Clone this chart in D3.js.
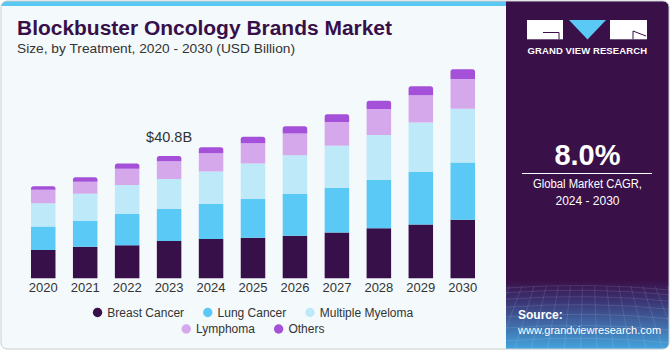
<!DOCTYPE html>
<html lang="en">
<head>
    <meta charset="UTF-8">
    <title>Blockbuster Oncology Brands Market</title>

    <style>

        body
        {
            margin: 0;
            background: #ffffff;
        }

        text
        {
            font-family: "Liberation Sans", Arial, sans-serif;
        }

        .tick text
        {
            font-size: 13px;
            fill: #333333;
        }

        .legend-label
        {
            font-size: 12px;
            fill: #333333;
        }

    </style>
</head>
<body>

    <svg width="670" height="350"></svg>

    <script src="https://d3js.org/d3.v7.min.js"></script>

    <script>

        // Data (USD billion)

        const years = ['2020', '2021', '2022', '2023', '2024', '2025', '2026', '2027', '2028', '2029', '2030'];

        const breastCancer    = [9.4, 10.5, 11.0, 12.4, 13.1, 13.5, 14.2, 15.3, 16.7, 17.9, 19.5];
        const lungCancer      = [7.9, 8.6, 10.4, 10.7, 11.7, 12.9, 13.9, 14.9, 16.1, 17.6, 19.1];
        const multipleMyeloma = [7.7, 9.1, 9.7, 10.0, 10.8, 11.9, 12.9, 14.0, 15.0, 16.4, 17.9];
        const lymphoma        = [4.5, 4.0, 5.4, 5.9, 6.1, 6.7, 7.3, 7.9, 8.6, 9.1, 9.9];
        const others          = [1.2, 1.5, 1.8, 1.8, 2.0, 2.2, 2.4, 2.6, 2.8, 3.0, 3.3];

        const seriesNames = ['Breast Cancer', 'Lung Cancer', 'Multiple Myeloma', 'Lymphoma', 'Others'];
        const seriesColors = ['#37104a', '#5bc9f5', '#bde9f9', '#d5a8ec', '#a550d8'];

        const annotatedYear = '2023';
        const cagrValue = '8.0%';

        // Build a table for d3.stack from the arrays above
        const seriesValues = [breastCancer, lungCancer, multipleMyeloma, lymphoma, others];
        const table = years.map(function (year, i) {
            const row = { year: year };
            seriesNames.forEach(function (name, s) {
                row[name] = seriesValues[s][i];
            });
            return row;
        });

        const svg = d3.select('svg');
        const width = +svg.attr('width');
        const height = +svg.attr('height');

        const defs = svg.append('defs');

        defs.append('clipPath')
            .attr('id', 'card-clip')
            .append('rect')
            .attr('x', 1)
            .attr('y', 1)
            .attr('width', width - 2)
            .attr('height', height - 2)
            .attr('rx', 6);

        const grad = defs.append('linearGradient')
            .attr('id', 'panel-grad')
            .attr('x1', 0).attr('y1', 0)
            .attr('x2', 0).attr('y2', 1);

        grad.append('stop').attr('offset', '0').attr('stop-color', '#3a1048');
        grad.append('stop').attr('offset', '0.8').attr('stop-color', '#3a1048');
        grad.append('stop').attr('offset', '0.86').attr('stop-color', '#3b3474');
        grad.append('stop').attr('offset', '1').attr('stop-color', '#44a6df');

        // Card background
        const card = svg.append('g').attr('clip-path', 'url(#card-clip)');

        card.append('rect')
            .attr('width', width)
            .attr('height', height)
            .attr('fill', '#f4f9fc');

        card.append('rect')
            .attr('x', 0)
            .attr('y', 0)
            .attr('width', 506)
            .attr('height', 6)
            .attr('fill', '#5bc8f2');

        // Right panel
        const panelX = 506;

        card.append('rect')
            .attr('x', panelX)
            .attr('y', 0)
            .attr('width', width - panelX)
            .attr('height', height)
            .attr('fill', 'url(#panel-grad)');

        // Faint mesh at the bottom of the panel
        const mesh = card.append('g')
            .attr('stroke', '#ffffff')
            .attr('stroke-opacity', 0.16)
            .attr('stroke-width', 0.7)
            .attr('fill', 'none');

        d3.range(0, 9).forEach(function (i) {
            const yy = 288 + i * i * 0.8 + i * 4;
            mesh.append('path')
                .attr('d', 'M' + panelX + ',' + yy + ' Q588,' + (yy - 6) + ' 670,' + (yy + 2));
        });
        d3.range(0, 16).forEach(function (i) {
            const xx = panelX + i * 11;
            mesh.append('line')
                .attr('x1', xx + (xx - 588) * 0.1).attr('y1', 286)
                .attr('x2', xx + (xx - 588) * 0.5).attr('y2', 350);
        });

        svg.append('rect')
            .attr('x', 1)
            .attr('y', 1)
            .attr('width', width - 2)
            .attr('height', height - 2)
            .attr('rx', 6)
            .attr('fill', 'none')
            .attr('stroke', '#c8ccd0')
            .attr('stroke-width', 1);

        // Title and subtitle
        svg.append('text')
            .attr('x', 17)
            .attr('y', 35)
            .attr('font-size', 20)
            .attr('font-weight', 'bold')
            .attr('fill', '#37104a')
            .attr('textLength', 375)
            .attr('lengthAdjust', 'spacingAndGlyphs')
            .text('Blockbuster Oncology Brands Market');

        svg.append('text')
            .attr('x', 17)
            .attr('y', 52.5)
            .attr('font-size', 13)
            .attr('fill', '#333333')
            .attr('textLength', 278)
            .attr('lengthAdjust', 'spacingAndGlyphs')
            .text('Size, by Treatment, 2020 - 2030 (USD Billion)');

        // Scales
        const x = d3.scaleBand()
            .domain(years)
            .range([18.4, 487.6])
            .paddingInner(0.416)
            .paddingOuter(0.3);

        const y = d3.scaleLinear()
            .domain([0, 70])
            .range([278.3, 68.3]);

        const color = d3.scaleOrdinal()
            .domain(seriesNames)
            .range(seriesColors);

        const stack = d3.stack().keys(seriesNames);
        const layers = stack(table);

        const chart = svg.append('g');

        // Top segment gets rounded top corners
        const roundedTop = function (x0, y0, w, h, r) {
            r = Math.min(r, h);
            return 'M' + x0 + ',' + (y0 + h) +
                'V' + (y0 + r) +
                'Q' + x0 + ',' + y0 + ' ' + (x0 + r) + ',' + y0 +
                'H' + (x0 + w - r) +
                'Q' + (x0 + w) + ',' + y0 + ' ' + (x0 + w) + ',' + (y0 + r) +
                'V' + (y0 + h) + 'Z';
        };

        chart.selectAll('g.layer')
            .data(layers)
            .enter()
            .append('g')
            .attr('class', 'layer')
            .attr('fill', function (d) { return color(d.key); })
            .each(function (layer, li) {
                d3.select(this)
                    .selectAll('path')
                    .data(layer)
                    .enter()
                    .append('path')
                    .attr('d', function (d) {
                        const top = y(d[1]);
                        const h = y(d[0]) - y(d[1]);
                        const r = li === layers.length - 1 ? 2.5 : 0;
                        return roundedTop(x(d.data.year), top, x.bandwidth(), h, r);
                    });
            });

        // X axis
        const xAxis = d3.axisBottom(x).tickSize(0).tickPadding(4);

        chart.append('g')
            .attr('transform', 'translate(0,' + y(0) + ')')
            .call(xAxis)
            .call(function (g) { g.select('.domain').remove(); })
            .selectAll('text')
            .attr('font-family', '"Liberation Sans", Arial, sans-serif')
            .attr('font-size', 13);

        // Annotation of the 2023 total
        const annotatedRow = table.find(function (d) { return d.year === annotatedYear; });
        const annotatedTotal = d3.sum(seriesNames, function (k) { return annotatedRow[k]; });

        chart.append('text')
            .attr('x', x(annotatedYear) + x.bandwidth() / 2)
            .attr('y', y(annotatedTotal) - 13.5)
            .attr('text-anchor', 'middle')
            .attr('font-size', 14.5)
            .attr('fill', '#333333')
            .text('$' + annotatedTotal.toFixed(1) + 'B');

        // Legend, two centred rows
        const legendRows = [seriesNames.slice(0, 3), seriesNames.slice(3)];
        const legendCenter = 253;
        const legendGap = 19;

        legendRows.forEach(function (row, ri) {
            const rowY = 312.5 + ri * 16.5;
            const rowG = svg.append('g');

            let cursor = 0;
            row.forEach(function (name) {
                const item = rowG.append('g').attr('transform', 'translate(' + cursor + ',0)');
                item.append('circle')
                    .attr('cx', 4.7)
                    .attr('cy', 0)
                    .attr('r', 4.7)
                    .attr('fill', color(name));
                const t = item.append('text')
                    .attr('class', 'legend-label')
                    .attr('x', 14.5)
                    .attr('dy', '0.35em')
                    .text(name);
                cursor += 14.5 + t.node().getComputedTextLength() + legendGap;
            });
            const rowWidth = cursor - legendGap;
            rowG.attr('transform', 'translate(' + (legendCenter - rowWidth / 2) + ',' + rowY + ')');
        });

        // Logo
        const logo = svg.append('g');

        logo.append('rect')
            .attr('x', 527).attr('y', 20)
            .attr('width', 36).attr('height', 19.3)
            .attr('fill', '#ffffff');

        logo.append('path')
            .attr('d', 'M543,32.5 H559 V39.3')
            .attr('stroke', '#3a1048')
            .attr('stroke-width', 1)
            .attr('fill', 'none');

        logo.append('path')
            .attr('d', 'M569,20 H606 L587.5,39.5 Z')
            .attr('fill', '#5bc9f5');

        logo.append('rect')
            .attr('x', 610).attr('y', 20)
            .attr('width', 37).attr('height', 19.3)
            .attr('fill', '#ffffff');

        logo.append('path')
            .attr('d', 'M633,31 L646,36 M633,31 V39.3')
            .attr('stroke', '#3a1048')
            .attr('stroke-width', 1)
            .attr('fill', 'none');

        logo.append('text')
            .attr('x', 527.5)
            .attr('y', 53.5)
            .attr('font-size', 9.5)
            .attr('font-weight', 'bold')
            .attr('fill', '#ffffff')
            .attr('textLength', 119.5)
            .attr('lengthAdjust', 'spacing')
            .text('GRAND VIEW RESEARCH');

        // CAGR block
        const panelCenter = 587.5;

        svg.append('text')
            .attr('x', panelCenter)
            .attr('y', 164.5)
            .attr('text-anchor', 'middle')
            .attr('font-size', 29)
            .attr('font-weight', 'bold')
            .attr('fill', '#ffffff')
            .text(cagrValue);

        svg.append('line')
            .attr('x1', 522).attr('x2', 652)
            .attr('y1', 173.5).attr('y2', 173.5)
            .attr('stroke', '#ffffff')
            .attr('stroke-width', 1);

        svg.append('text')
            .attr('x', panelCenter)
            .attr('y', 188)
            .attr('text-anchor', 'middle')
            .attr('font-size', 12)
            .attr('fill', '#ffffff')
            .attr('textLength', 109)
            .attr('lengthAdjust', 'spacingAndGlyphs')
            .text('Global Market CAGR,');

        svg.append('text')
            .attr('x', panelCenter)
            .attr('y', 204.5)
            .attr('text-anchor', 'middle')
            .attr('font-size', 12)
            .attr('fill', '#ffffff')
            .text('2024 - 2030');

        // Source
        svg.append('text')
            .attr('x', 518)
            .attr('y', 319)
            .attr('font-size', 12)
            .attr('font-weight', 'bold')
            .attr('fill', '#ffffff')
            .text('Source:');

        svg.append('text')
            .attr('x', 518)
            .attr('y', 333.5)
            .attr('font-size', 11)
            .attr('fill', '#ffffff')
            .text('www.grandviewresearch.com');

    </script>

</body>
</html>
